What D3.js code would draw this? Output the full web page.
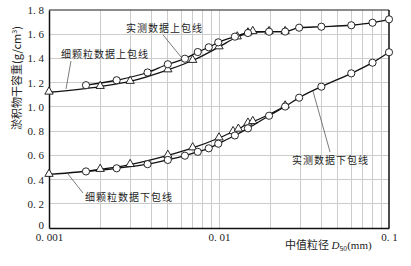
<!DOCTYPE html>
<html><head><meta charset="utf-8">
<script src="https://cdn.jsdelivr.net/npm/d3@7"></script>
<style>
html,body{margin:0;padding:0;background:#fff;}
svg{display:block;}
</style></head>
<body>
<svg id="c" width="411" height="266"></svg>
<script>
// ---- data ----
const measuredX = [0.00165,0.0025,0.0038,0.005,0.0063,0.0075,0.0087,0.0099,0.0124,0.0148,0.0197,0.0245,0.0296,0.040,0.060,0.080,0.100];
const measuredUpper = [1.179,1.220,1.284,1.352,1.398,1.453,1.492,1.533,1.580,1.610,1.621,1.622,1.654,1.662,1.674,1.695,1.723];
const measuredLower = [0.467,0.493,0.527,0.562,0.597,0.629,0.658,0.696,0.764,0.823,0.927,1.003,1.076,1.167,1.277,1.365,1.451];

const fineUpperX = [0.001,0.0020,0.0030,0.0050,0.0070,0.0100,0.0128,0.0148,0.0158,0.0197,0.0245];
const fineUpper  = [1.121,1.168,1.210,1.305,1.383,1.495,1.577,1.610,1.621,1.621,1.621];
const fineLowerX = [0.001,0.0020,0.0030,0.0050,0.0070,0.0100,0.0121,0.0130,0.0148,0.0158,0.0245];
const fineLower  = [0.442,0.483,0.523,0.599,0.661,0.743,0.795,0.815,0.865,0.878,1.007];

const yTicks = [0,0.2,0.4,0.6,0.8,1.0,1.2,1.4,1.6,1.8];
const yTickLabels = ["0","0. 2","0. 4","0. 6","0. 8","1. 0","1. 2","1. 4","1. 6","1. 8"];
const xTicks = [0.001,0.01,0.1];
const xTickLabels = ["0. 001","0. 01","0. 1"];

// annotations: [text, textX, textY, fromX, fromY, toX, toY] in data units
const annotations = [
  ["实测数据上包线", 0.00284, 1.651, 0.00469, 1.594, 0.00598, 1.412],
  ["细颗粒数据上包线", 0.001177, 1.437, 0.001347, 1.379, 0.001259, 1.148],
  ["细颗粒数据下包线", 0.001628, 0.256, 0.001293, 0.446, 0.001585, 0.289],
  ["实测数据下包线", 0.0269, 0.561, 0.0357, 1.131, 0.045, 0.628]
];

// ---- chart ----
const svg = d3.select("#c");
const L=49, R=389, T=10, B=228;
const x = d3.scaleLog().domain([0.001,0.1]).range([L,R]);
const y = d3.scaleLinear().domain([0,1.8]).range([B,T]);

// grid
const minor = [];
[0.001,0.01].forEach(d=>{for(let k=2;k<=9;k++) minor.push(d*k);});
svg.append("g").selectAll("line").data(minor.concat([0.01])).join("line")
  .attr("x1",d=>x(d)).attr("x2",d=>x(d)).attr("y1",T).attr("y2",B)
  .attr("stroke","#cccccc").attr("stroke-width",1).attr("shape-rendering","crispEdges");
svg.append("g").selectAll("line").data(yTicks.slice(1,-1)).join("line")
  .attr("x1",L).attr("x2",R).attr("y1",d=>y(d)).attr("y2",d=>y(d))
  .attr("stroke","#cccccc").attr("stroke-width",1).attr("shape-rendering","crispEdges");

// frame
svg.append("line").attr("x1",L).attr("x2",R).attr("y1",T).attr("y2",T).attr("stroke","#666").attr("stroke-width",1.5);
svg.append("line").attr("x1",R).attr("x2",R).attr("y1",T).attr("y2",B).attr("stroke","#111").attr("stroke-width",1.5);

// axes
const ya = d3.axisLeft(y).tickValues(yTicks).tickSize(0).tickPadding(5)
  .tickFormat((d,i)=>yTickLabels[i]);
const gy = svg.append("g").attr("transform",`translate(${L},0)`).call(ya);
gy.select(".domain").attr("stroke","#111").attr("stroke-width",1.5);
gy.selectAll("text").attr("font-family","'Liberation Serif','DejaVu Serif',serif").attr("font-size",11)
  .attr("fill","#222").style("white-space","pre");
gy.selectAll(".tick").filter(d=>d===0).select("text").attr("y",-3);

const xa = d3.axisBottom(x).tickValues(xTicks).tickSize(0).tickPadding(5)
  .tickFormat((d,i)=>xTickLabels[i]);
const gx = svg.append("g").attr("transform",`translate(0,${B})`).call(xa);
gx.select(".domain").attr("stroke","#111").attr("stroke-width",1.5);
gx.selectAll("text").attr("font-family","'Liberation Serif','DejaVu Serif',serif").attr("font-size",11)
  .attr("fill","#222").style("white-space","pre");

// lines
const line = d3.line().x(d=>x(d[0])).y(d=>y(d[1])).curve(d3.curveMonotoneX);
const series = [
  {xs:fineUpperX, ys:fineUpper, m:"tri"},
  {xs:fineLowerX, ys:fineLower, m:"tri"},
  {xs:measuredX, ys:measuredUpper, m:"circ"},
  {xs:measuredX, ys:measuredLower, m:"circ"}
];
series.forEach(s=>{
  const pts = s.xs.map((v,i)=>[v,s.ys[i]]);
  svg.append("path").datum(pts).attr("d",line).attr("fill","none").attr("stroke","#111").attr("stroke-width",1.3);
});
const tri = d3.symbol().type(d3.symbolTriangle).size(30);
series.filter(s=>s.m==="tri").forEach(s=>{
  svg.append("g").selectAll("path").data(s.xs.map((v,i)=>[v,s.ys[i]])).join("path")
    .attr("d",tri).attr("transform",d=>`translate(${x(d[0])},${y(d[1])-0.5})`)
    .attr("fill","#fff").attr("stroke","#111").attr("stroke-width",0.9);
});
series.filter(s=>s.m==="circ").forEach(s=>{
  svg.append("g").selectAll("circle").data(s.xs.map((v,i)=>[v,s.ys[i]])).join("circle")
    .attr("cx",d=>x(d[0])).attr("cy",d=>y(d[1])).attr("r",3.6)
    .attr("fill","#fff").attr("stroke","#111").attr("stroke-width",0.9);
});

// annotations
annotations.forEach(a=>{
  svg.append("line").attr("x1",x(a[3])).attr("y1",y(a[4])).attr("x2",x(a[5])).attr("y2",y(a[6]))
    .attr("stroke","#444").attr("stroke-width",0.7);
  svg.append("text").attr("x",x(a[1])).attr("y",y(a[2])).attr("dy","0.36em")
    .attr("font-family","'Noto Sans CJK SC',sans-serif").attr("font-size",10)
    .attr("letter-spacing",1).attr("fill","#222").text(a[0]);
});

// axis titles
svg.append("text").attr("transform","translate(17,78) rotate(-90)").attr("text-anchor","middle")
  .attr("dy","0.36em").attr("font-family","'Noto Sans CJK SC',sans-serif").attr("font-size",11)
  .attr("fill","#222").html("淤积物干容重(g/cm<tspan dy='-4' font-size='7'>3</tspan><tspan dy='4'>)</tspan>");
const xt = svg.append("text").attr("x",285).attr("y",249)
  .attr("font-family","'Noto Sans CJK SC',sans-serif").attr("font-size",11).attr("fill","#222");
xt.append("tspan").text("中值粒径 ");
xt.append("tspan").attr("font-family","'Liberation Serif',serif").attr("font-style","italic").text("D");
xt.append("tspan").attr("font-size",7).attr("dy",2).text("50");
xt.append("tspan").attr("dy",-2).attr("font-family","'Liberation Serif',serif").text("(mm)");
</script>
</body></html>
